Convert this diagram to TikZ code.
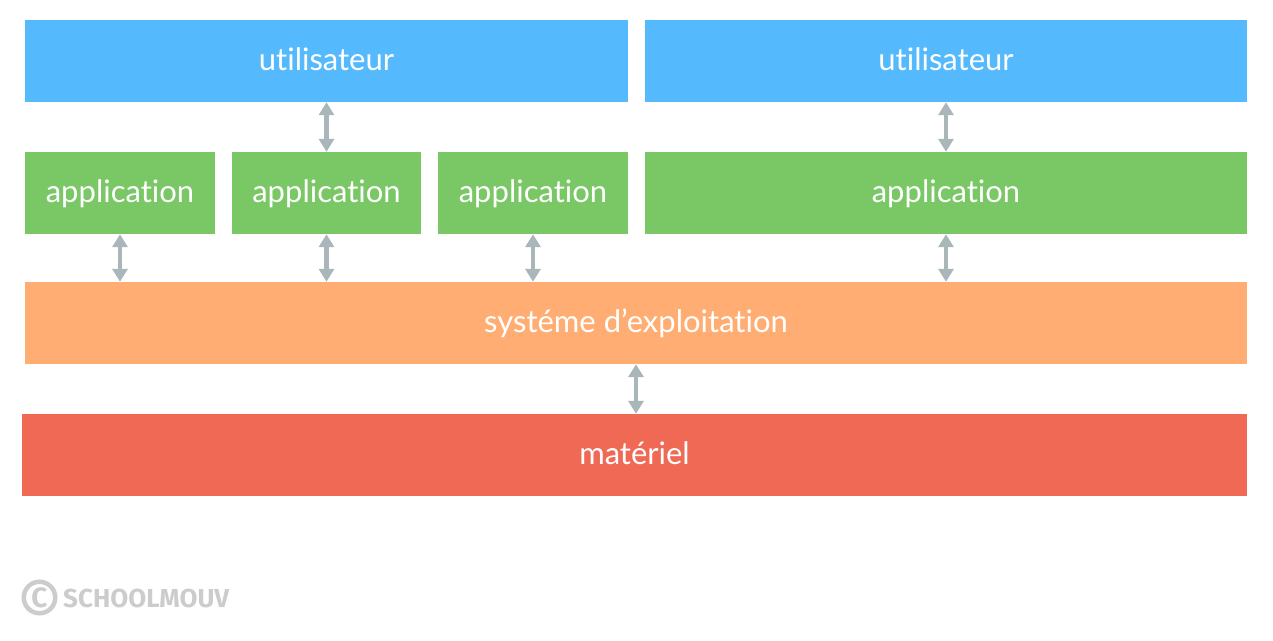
\documentclass[tikz,border=0pt]{standalone}
\usepackage{fontspec}
\setmainfont[Ligatures=NoCommon]{Lato}
\newfontfamily\logofont{Fira Sans}
\usetikzlibrary{arrows.meta}
\definecolor{userblue}{HTML}{54B9FD}
\definecolor{appgreen}{HTML}{79C865}
\definecolor{osorange}{HTML}{FFAD72}
\definecolor{hwred}{HTML}{EF6955}
\definecolor{linkgrey}{HTML}{A9B7BB}
\definecolor{logogrey}{HTML}{CCCCCC}
\tikzset{
	layer/.style={fill=#1, inner sep=0pt, minimum height=82pt, text=white,
		font=\fontsize{31}{31}\selectfont, text height=23pt, text depth=4pt},
	link/.style={{Triangle[width=15pt,length=13pt]}-{Triangle[width=15pt,length=13pt]},
		line width=4.5pt, linkgrey},
}
\begin{document}
\begin{tikzpicture}[x=1pt, y=-1pt]
			\useasboundingbox (0,0) rectangle (1273,640);
			\node (u1)[layer=userblue, minimum width=603pt] at (326.5,61) {utilisateur};
			\node (u2)[layer=userblue, minimum width=602pt] at (946,61) {utilisateur};
			\node (a1)[layer=appgreen, minimum width=190pt] at (120,193) {application};
			\node (a2)[layer=appgreen, minimum width=189pt] at (326.5,193) {application};
			\node (a3)[layer=appgreen, minimum width=190pt] at (533,193) {application};
			\node (a4)[layer=appgreen, minimum width=602pt] at (946,193) {application};
			\node (os)[layer=osorange, minimum width=1222pt] at (636,323) {systéme d’exploitation};
			\node (hw)[layer=hwred, minimum width=1225pt] at (634.5,455) {matériel};

			\draw [link](a2.north)--(u1.south);
			\draw [link](a4.north)--(u2.south);
			\draw [link](a1.south)--(a1.south |- os.north);
			\draw [link](a2.south)--(a2.south |- os.north);
			\draw [link](a3.south)--(a3.south |- os.north);
			\draw [link](a4.south)--(a4.south |- os.north);
			\draw [link](os.south)--(os.south |- hw.north);

			\node (copy)[circle, draw=logogrey, line width=4.5pt, inner sep=0pt, minimum size=31.5pt, text=logogrey, font=\logofont\bfseries\fontsize{28}{28}\selectfont] at (39.5,597.5) {C};
			\node (mark)[anchor=west, inner sep=0pt, text=logogrey, font=\logofont\bfseries\fontsize{26}{26}\selectfont] at (63,598) {SCHOOLMOUV};
		\end{tikzpicture}
\end{document}
